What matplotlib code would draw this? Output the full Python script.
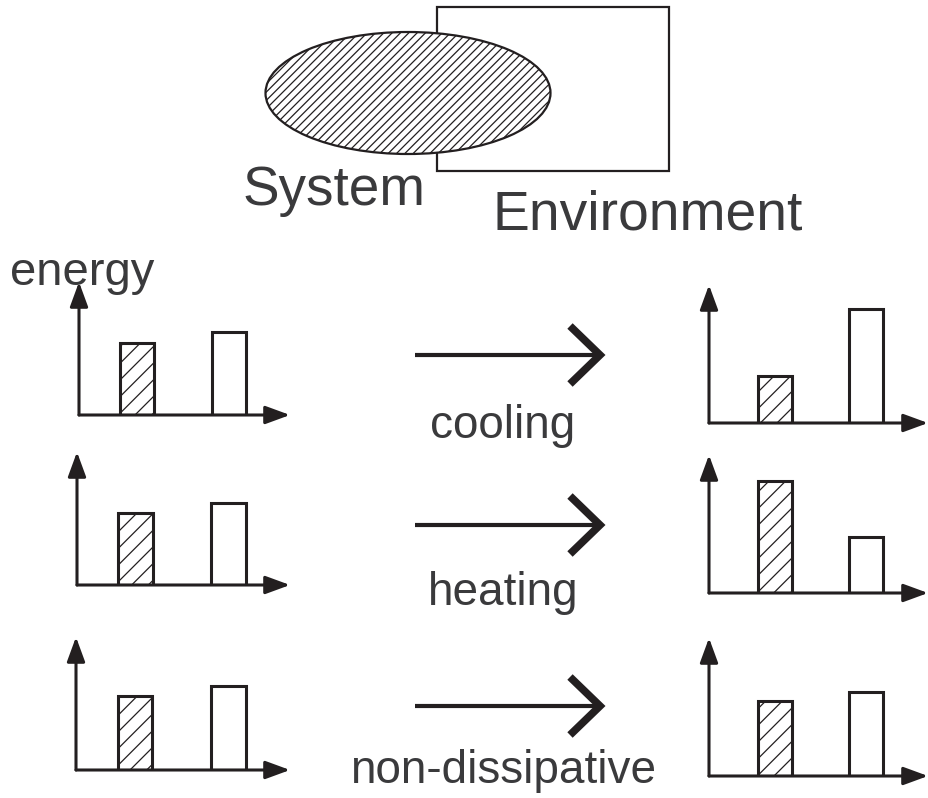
import matplotlib.pyplot as plt
from matplotlib.patches import Ellipse, Rectangle
import numpy as np

plt.rcParams['font.family'] = ['Liberation Sans', 'DejaVu Sans']
plt.rcParams['hatch.linewidth'] = 0.9

# energie (unidades arbitrárias) do sistema e do ambiente, antes e depois
processes = ['cooling', 'heating', 'non-dissipative']
system_before = [72, 72, 74]
env_before = [83, 82, 84]
system_after = [47, 112, 75]
env_after = [114, 56, 84]

TXT = '#3a3a3c'
LN = '#231f20'
W, H = 929, 798

fig = plt.figure(figsize=(9.29, 7.98), dpi=100)

# camada de fundo em coordenadas de pixel
bg = fig.add_axes([0, 0, 1, 1])
bg.set_xlim(0, W)
bg.set_ylim(H, 0)
bg.axis('off')

bg.add_patch(Rectangle((437, 7), 232, 164, fill=False, ec=LN, lw=1.6, zorder=1))
bg.add_patch(Ellipse((408, 93), 285, 122, fc='white', ec=LN, lw=1.6,
                     hatch='////', zorder=2))
bg.text(243, 205, 'System', fontsize=39.5, color=TXT, va='baseline', ha='left')
bg.text(493, 230, 'Environment', fontsize=39.8, color=TXT, va='baseline', ha='left')
bg.text(10, 285, 'energy', fontsize=34, color=TXT, va='baseline', ha='left')

arrow_y = [355, 525, 706]
label_y = [438, 605, 783]
for ay, ly, name in zip(arrow_y, label_y, processes):
    bg.plot([415, 598], [ay, ay], color=LN, lw=3, solid_capstyle='butt')
    bg.plot([570, 600, 570], [ay - 29, ay, ay + 29], color=LN, lw=5.5,
            solid_joinstyle='miter', solid_capstyle='butt')
    bg.text(503, ly, name, fontsize=33, color=TXT, va='baseline', ha='center')


def energy_chart(ox, oy, w, h, values, xlim):
    # ox, oy = origem em pixels; w, h = comprimento dos eixos até a ponta da seta
    ax = fig.add_axes([ox / W, 1 - oy / H, w / W, h / H])
    ax.set_xlim(*xlim)
    ax.set_ylim(0, h)
    ax.axis('off')
    ax.patch.set_alpha(0)
    bars = ax.bar([0, 1], values, width=0.37, color='white', edgecolor=LN,
                  linewidth=2.2, zorder=2)
    bars[0].set_hatch('//')
    kw = dict(arrowstyle='-|>,head_length=15,head_width=5.5', color=LN,
              lw=2.2, shrinkA=0, shrinkB=0, mutation_scale=1)
    ax.annotate('', xy=(1, 0), xytext=(0, 0), xycoords='axes fraction',
                arrowprops=kw, zorder=3)
    ax.annotate('', xy=(0, 1), xytext=(0, 0), xycoords='axes fraction',
                arrowprops=kw, zorder=3)
    return ax


left_origin = [(79, 415), (77, 585), (76, 770)]
right_origin = [(709, 423), (709, 593), (709, 776)]
for i in range(3):
    lx, ly = left_origin[i]
    energy_chart(lx, ly, 290 - lx, 133, [system_before[i], env_before[i]],
                 (-0.63, 1.66))
    rx, ry = right_origin[i]
    energy_chart(rx, ry, 219, 138, [system_after[i], env_after[i]],
                 (-0.72, 1.68))

fig.savefig('out.png', dpi=100)
